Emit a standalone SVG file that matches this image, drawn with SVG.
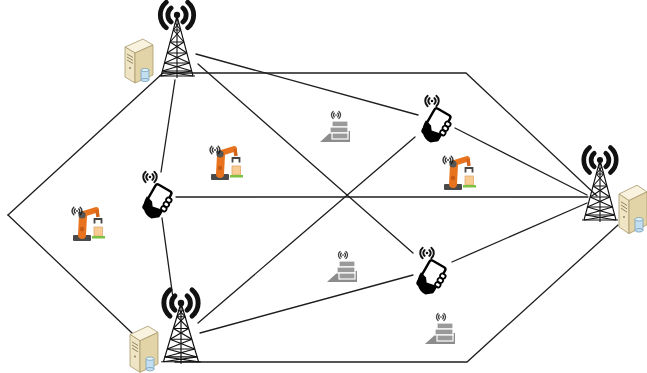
<svg xmlns="http://www.w3.org/2000/svg" xmlns:xlink="http://www.w3.org/1999/xlink" width="647" height="373" viewBox="0 0 647 373">
  <style>
    .link { stroke: #1e1e1e; stroke-width: 1.3; fill: none; stroke-linecap: round; }
    .lattice { stroke: #111; stroke-width: 1.1; fill: none; }
    .wave { stroke: #111; fill: none; stroke-linecap: round; }
  </style>
  <defs>
    <!-- radio wave glyph "((•))" centred on the origin -->
    <g id="waves">
      <circle cx="0" cy="0" r="1.7" fill="#111"/>
      <path class="wave" stroke-width="2.6" d="M3.2,-3.8 A5,5 0 0 1 3.2,3.8 M-3.2,-3.8 A5,5 0 0 0 -3.2,3.8 M5.8,-6.9 A9,9 0 0 1 5.8,6.9 M-5.8,-6.9 A9,9 0 0 0 -5.8,6.9"/>
    </g>
    <!-- lattice mast, apex at origin, base at y=60 -->
    <g id="mast" class="lattice">
      <path d="M0,0 L-16,60 M0,0 L16,60 M0,0 V62"/>
      <path d="M-3.7,14 H3.7 M-6.9,26 H6.9 M-9.9,37 H9.9 M-12.5,47 H12.5 M-14.7,55 H14.7 M-18,60 H18"/>
      <path d="M-3.7,14 L6.9,26 M3.7,14 L-6.9,26 M-6.9,26 L9.9,37 M6.9,26 L-9.9,37 M-9.9,37 L12.5,47 M9.9,37 L-12.5,47 M-12.5,47 L14.7,55 M12.5,47 L-14.7,55 M-14.7,55 L16,60 M14.7,55 L-16,60"/>
      <path d="M-1.9,7 L3.7,14 M1.9,7 L-3.7,14"/>
    </g>
    <!-- server cabinet with storage cylinder -->
    <g id="server">
      <polygon points="0,10 18,2 28,8 10,16" fill="#f8f2de" stroke="#a99b70" stroke-width="0.8"/>
      <polygon points="0,10 10,16 10,46 0,40" fill="#efe5c4" stroke="#a99b70" stroke-width="0.8"/>
      <polygon points="10,16 28,8 28,38 10,46" fill="#e2d4a6" stroke="#a99b70" stroke-width="0.8"/>
      <path d="M2,17 L8,20.5 M2,20 L8,23.5 M2,23 L8,26.5" stroke="#8a7c55" stroke-width="0.9"/>
      <circle cx="5" cy="31" r="0.9" fill="#8a7c55"/>
      <rect x="16" y="33" width="8" height="10" fill="#c3def0" stroke="#6f9ab5" stroke-width="0.7"/>
      <ellipse cx="20" cy="33" rx="4" ry="1.6" fill="#e3f1fa" stroke="#6f9ab5" stroke-width="0.7"/>
      <ellipse cx="20" cy="43" rx="4" ry="1.6" fill="#c3def0" stroke="#6f9ab5" stroke-width="0.7"/>
    </g>
    <!-- hand-held smartphone, centred on origin -->
    <g id="handset">
      <g transform="rotate(30)">
        <rect x="-9" y="-15" width="18" height="28" rx="2.5" fill="#fff" stroke="#000" stroke-width="2.4"/>
        <rect x="7" y="-9" width="5.5" height="4.6" rx="2" fill="#fff" stroke="#000" stroke-width="1.8"/>
        <rect x="7" y="-4" width="5.5" height="4.6" rx="2" fill="#fff" stroke="#000" stroke-width="1.8"/>
        <rect x="7" y="1" width="5.5" height="4.6" rx="2" fill="#fff" stroke="#000" stroke-width="1.8"/>
        <path d="M-11,1 C-12,11 -5,19 4,18 L10,13 L9,5 L-1,7 L-4,3 Z" fill="#000"/>
      </g>
    </g>
    <!-- industrial robot arm with wireless module -->
    <g id="robot">
      <rect x="3" y="30" width="18" height="6" rx="1" fill="#4a4a4a"/>
      <path d="M12,30 L13,11" stroke="#e8731e" stroke-width="8" stroke-linecap="round" fill="none"/>
      <path d="M13,9 L26,5" stroke="#e8731e" stroke-width="6" stroke-linecap="round" fill="none"/>
      <path d="M27,5 L28,12" stroke="#d4651a" stroke-width="3.5" fill="none"/>
      <circle cx="12" cy="10" r="3.6" fill="#555"/>
      <circle cx="12" cy="24" r="2.2" fill="#c65b16"/>
      <path d="M24.5,18.5 V14 H31.5 V18.5" stroke="#444" stroke-width="1.8" fill="none"/>
      <rect x="24" y="22" width="8.5" height="9" fill="#f7cc94" stroke="#e0a060" stroke-width="0.7"/>
      <rect x="22" y="31" width="13" height="2.5" fill="#7cc242"/>
      <use xlink:href="#waves" transform="translate(7,6) scale(0.55)" opacity="0.85"/>
    </g>
    <!-- automated guided vehicle with stacked load -->
    <g id="agv">
      <polygon points="0,30 12,19 30,19 30,30" fill="#8c8c8c"/>
      <rect x="12" y="9" width="16" height="6" fill="#9a9a9a" stroke="#fff" stroke-width="1.2"/>
      <rect x="10" y="15" width="18" height="6" fill="#9a9a9a" stroke="#fff" stroke-width="1.2"/>
      <rect x="12" y="21" width="16" height="6" fill="#9a9a9a" stroke="#fff" stroke-width="1.2"/>
      <use xlink:href="#waves" transform="translate(16,3) scale(0.5)" opacity="0.8"/>
    </g>
  </defs>

  <rect x="0" y="0" width="647" height="373" fill="#fff"/>

  <g id="connectors">
    <!-- outer hexagon -->
    <path class="link" d="M163,73 L466,73 L597,196"/>
    <path class="link" d="M8,215 L163,73"/>
    <path class="link" d="M8,215 L132,333"/>
    <path class="link" d="M175,362 L467,362 L618,225"/>
    <!-- inner links -->
    <path class="link" d="M175,80 L161,172"/>
    <path class="link" d="M162,218 L173,298"/>
    <path class="link" d="M176,197 L588,197"/>
    <path class="link" d="M196,54 L418,115"/>
    <path class="link" d="M198,64 L413,253"/>
    <path class="link" d="M198,323 L415,137"/>
    <path class="link" d="M200,333 L413,275"/>
    <path class="link" d="M455,128 L587,195"/>
    <path class="link" d="M452,262 L587,203"/>
  </g>

  <g id="bs-top">
    <use xlink:href="#server" transform="translate(125,37)"/>
    <use xlink:href="#mast" transform="translate(177,16)"/>
    <use xlink:href="#waves" transform="translate(177,15) scale(1.85)"/>
  </g>
  <g id="bs-bottom">
    <use xlink:href="#server" transform="translate(130,324) scale(1,1.05)"/>
    <use xlink:href="#mast" transform="translate(181,303) scale(1.1,0.98)"/>
    <use xlink:href="#waves" transform="translate(181,303) scale(1.9)"/>
  </g>
  <g id="bs-right">
    <use xlink:href="#server" transform="translate(619,183) scale(1,1.1)"/>
    <use xlink:href="#mast" transform="translate(600,160)"/>
    <use xlink:href="#waves" transform="translate(600,160) scale(1.8)"/>
  </g>

  <g id="ue-left">
    <use xlink:href="#handset" transform="translate(157,201)"/>
    <use xlink:href="#waves" transform="translate(150,177) scale(0.75)"/>
  </g>
  <g id="ue-upper">
    <use xlink:href="#handset" transform="translate(436,125)"/>
    <use xlink:href="#waves" transform="translate(432,101) scale(0.75)"/>
  </g>
  <g id="ue-lower">
    <use xlink:href="#handset" transform="translate(431,277)"/>
    <use xlink:href="#waves" transform="translate(427,253) scale(0.75)"/>
  </g>

  <g id="robot-1"><use xlink:href="#robot" transform="translate(208,144)"/></g>
  <g id="robot-2"><use xlink:href="#robot" transform="translate(441,154)"/></g>
  <g id="robot-3"><use xlink:href="#robot" transform="translate(70,205)"/></g>

  <g id="agv-1"><use xlink:href="#agv" transform="translate(320,112)"/></g>
  <g id="agv-2"><use xlink:href="#agv" transform="translate(327,252)"/></g>
  <g id="agv-3"><use xlink:href="#agv" transform="translate(425,314)"/></g>
</svg>
